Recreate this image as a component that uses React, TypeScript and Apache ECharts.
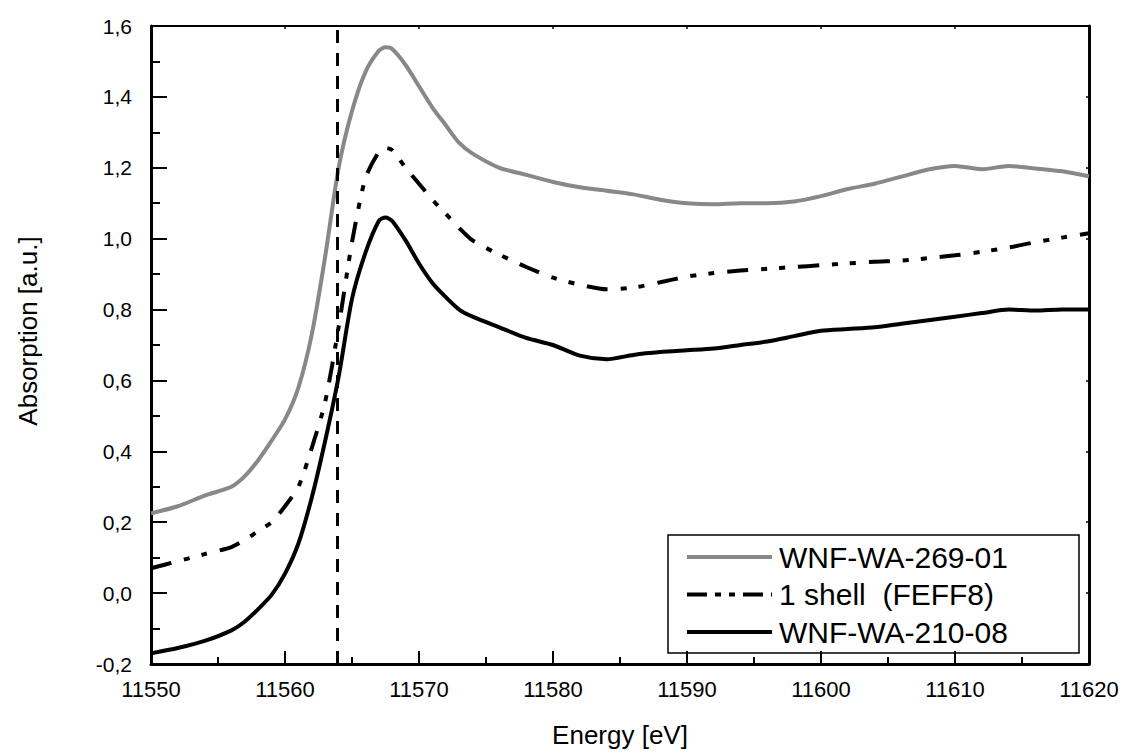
import React, { useEffect, useRef } from "react";
import * as echarts from "echarts";

const energy = [
  11550, 11552, 11554, 11556, 11557, 11558, 11559, 11560, 11561, 11562, 11563, 11564, 11565, 11566, 11567, 11567.5,
  11568, 11569, 11570, 11571, 11572, 11573, 11574, 11576, 11578, 11580, 11582, 11584, 11586, 11588, 11590, 11592,
  11594, 11596, 11598, 11600, 11602, 11604, 11606, 11608, 11610, 11612, 11614, 11616, 11618, 11620,
];

const wnf269 = [
  0.225, 0.245, 0.275, 0.3, 0.33, 0.375, 0.43, 0.49, 0.58, 0.73, 0.95, 1.2, 1.36, 1.47, 1.53, 1.54,
  1.535, 1.49, 1.43, 1.37, 1.32, 1.27, 1.24, 1.2, 1.18, 1.16, 1.145, 1.135, 1.125, 1.11, 1.1, 1.097,
  1.1, 1.1, 1.105, 1.12, 1.14, 1.155, 1.175, 1.195, 1.205, 1.196, 1.205, 1.198, 1.19, 1.176,
];

const shell1 = [
  0.07, 0.09, 0.11, 0.13, 0.15, 0.175, 0.2, 0.245, 0.3, 0.41, 0.54, 0.75, 0.99, 1.17, 1.245, 1.256,
  1.25, 1.2, 1.155, 1.11, 1.07, 1.03, 0.995, 0.955, 0.92, 0.89, 0.87, 0.857, 0.862, 0.877, 0.893, 0.903,
  0.91, 0.915, 0.92, 0.925, 0.93, 0.935, 0.938, 0.945, 0.953, 0.963, 0.975, 0.99, 1.003, 1.015,
];

const wnf210 = [
  -0.17, -0.155, -0.135, -0.105, -0.08, -0.045, -0.005, 0.055, 0.14, 0.27, 0.43, 0.61, 0.83, 0.96, 1.05, 1.06,
  1.05, 0.995, 0.93, 0.875, 0.835, 0.8, 0.78, 0.75, 0.72, 0.7, 0.67, 0.66, 0.672, 0.68, 0.685, 0.69,
  0.7, 0.71, 0.725, 0.74, 0.745, 0.75, 0.76, 0.77, 0.78, 0.79, 0.8, 0.797, 0.8, 0.8,
];

const seriesNames = ["WNF-WA-269-01", "1 shell  (FEFF8)", "WNF-WA-210-08"];
const edgeEnergy = 11563.9;

const FONT = "Liberation Sans, Arial, sans-serif";
const DASH_DOT_DOT = [21, 13, 6, 12, 6, 13];

export default function App() {
  const ref = useRef<HTMLDivElement>(null);
  useEffect(() => {
    if (!ref.current) return;
    const chart = echarts.init(ref.current, undefined, { renderer: "svg" });
    const pts = (ys: number[]) => energy.map((e, i) => [e, ys[i]]);
    const commonAxisLine = { onZero: false, lineStyle: { color: "#000", width: 3 } };
    chart.setOption({
      animation: false,
      backgroundColor: "#fff",
      grid: { left: 151, right: 40, top: 26, bottom: 87 },
      legend: {
        orient: "vertical",
        left: 685,
        top: 542,
        padding: 0,
        itemWidth: 85,
        itemHeight: 14,
        itemGap: 7.5,
        itemStyle: { opacity: 0 },
        lineStyle: { width: 4 },
        textStyle: { fontFamily: FONT, fontSize: 30, lineHeight: 30, color: "#000", padding: [0, 0, 0, 2] },
        data: [
          { name: seriesNames[0], lineStyle: { width: 4, color: "#888888", type: "solid" } },
          { name: seriesNames[1], lineStyle: { width: 4, color: "#000", type: [20, 8, 6, 8, 6, 8] } },
          { name: seriesNames[2], lineStyle: { width: 4, color: "#000", type: "solid" } },
        ],
      },
      graphic: [
        {
          type: "rect",
          z: 0,
          silent: true,
          shape: { x: 668, y: 535, width: 411, height: 118 },
          style: { fill: "#fff", stroke: "#000", lineWidth: 1.5 },
        },
      ],
      xAxis: [
        {
          type: "value",
          min: 11550,
          max: 11620,
          interval: 10,
          position: "bottom",
          name: "Energy [eV]",
          nameLocation: "middle",
          nameGap: 58,
          nameTextStyle: { fontFamily: FONT, fontSize: 26, color: "#000" },
          axisLine: commonAxisLine,
          axisTick: { inside: true, length: 13, lineStyle: { width: 2, color: "#000" } },
          minorTick: { show: true, splitNumber: 2, length: 7, lineStyle: { width: 2, color: "#000" } },
          axisLabel: {
            fontFamily: FONT,
            fontSize: 22,
            color: "#000",
            margin: 14,
            formatter: (v: number) => String(v),
          },
          splitLine: { show: false },
        },
        {
          type: "value",
          min: 11550,
          max: 11620,
          interval: 10,
          position: "top",
          axisLine: { onZero: false, lineStyle: { color: "#000", width: 2 } },
          axisTick: { inside: true, length: 3, lineStyle: { width: 1.5, color: "#000" } },
          axisLabel: { show: false },
          splitLine: { show: false },
        },
      ],
      yAxis: [
        {
          type: "value",
          min: -0.2,
          max: 1.6,
          interval: 0.2,
          position: "left",
          name: "Absorption [a.u.]",
          nameLocation: "middle",
          nameGap: 110,
          nameTextStyle: { fontFamily: FONT, fontSize: 26, color: "#000", padding: [0, 0, 0, 28] },
          axisLine: commonAxisLine,
          axisTick: { inside: true, length: 16, lineStyle: { width: 2, color: "#000" } },
          minorTick: { show: true, splitNumber: 2, length: 9, lineStyle: { width: 2, color: "#000" } },
          axisLabel: {
            fontFamily: FONT,
            fontSize: 21,
            color: "#000",
            margin: 19,
            formatter: (v: number) => v.toFixed(1).replace(".", ","),
          },
          splitLine: { show: false },
        },
        {
          type: "value",
          min: -0.2,
          max: 1.6,
          interval: 0.2,
          position: "right",
          axisLine: commonAxisLine,
          axisTick: { inside: true, length: 3, lineStyle: { width: 1.5, color: "#000" } },
          axisLabel: { show: false },
          splitLine: { show: false },
        },
      ],
      series: [
        {
          name: seriesNames[0],
          type: "line",
          data: pts(wnf269),
          symbol: "none",
          smooth: 0.25,
          z: 3,
          lineStyle: { color: "#888888", width: 4 },
          itemStyle: { color: "#888888" },
        },
        {
          name: seriesNames[1],
          type: "line",
          data: pts(shell1),
          symbol: "none",
          smooth: 0.25,
          z: 3,
          lineStyle: { color: "#000", width: 4, type: DASH_DOT_DOT },
          itemStyle: { color: "#000" },
          markLine: {
            silent: true,
            symbol: "none",
            label: { show: false },
            lineStyle: { color: "#000", width: 3, type: [13, 10] },
            data: [{ xAxis: edgeEnergy }],
          },
        },
        {
          name: seriesNames[2],
          type: "line",
          data: pts(wnf210),
          symbol: "none",
          smooth: 0.25,
          z: 3,
          lineStyle: { color: "#000", width: 4 },
          itemStyle: { color: "#000" },
        },
      ],
    });
    return () => chart.dispose();
  }, []);
  return (
    <div
      ref={ref}
      style={{ position: "absolute", left: 0, top: 0, width: 1129, height: 753, background: "#fff" }}
    />
  );
}
